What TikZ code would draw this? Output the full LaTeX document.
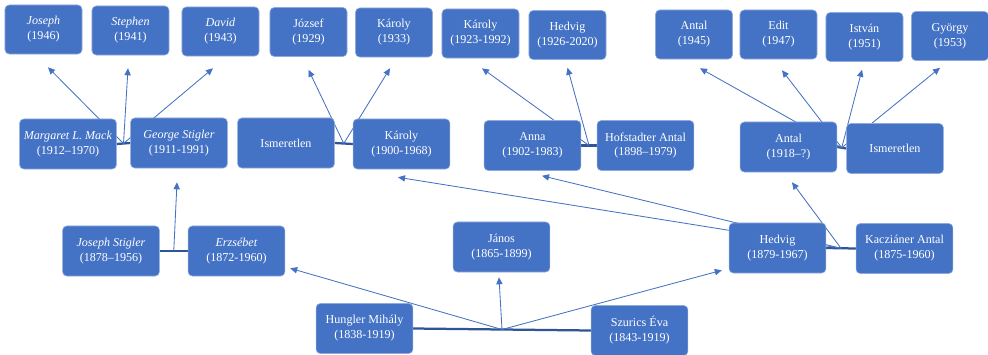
\documentclass[tikz,border=0pt]{standalone}
\usepackage{fontspec}
\setmainfont{Liberation Serif}
\usetikzlibrary{arrows.meta,calc,backgrounds}
\definecolor{boxblue}{HTML}{4472C4}
\definecolor{boxedge}{HTML}{8FAADC}
\definecolor{wedline}{HTML}{2F5597}

\begin{document}
\begin{tikzpicture}[x=0.025cm,y=-0.025cm,
  person/.style={draw=boxedge,line width=0.4pt,rounded corners=3pt,fill=boxblue,text=white,align=center,font=\fontsize{8.6}{10.6}\selectfont,minimum width=2.42cm,minimum height=1.25cm,inner sep=1pt},
  kid/.style={person,minimum width=1.925cm,minimum height=1.225cm},
  couple/.style={draw=wedline,line width=1.6pt},
  descent/.style={draw=boxblue,line width=0.6pt,-{Triangle[length=5pt,width=4.5pt]}}]
\useasboundingbox (0,0) rectangle (988,355);
% top row
\node[kid] (joseph) at (43.5,29.5) {\textit{Joseph}\\(1946)};
\node[kid] (stephen) at (130.5,30.5) {\textit{Stephen}\\(1941)};
\node[kid] (david) at (220.5,31.5) {\textit{David}\\(1943)};
\node[kid] (jozsef) at (308.5,32) {József\\(1929)};
\node[kid] (karoly33) at (394,32.5) {Károly\\(1933)};
\node[kid] (karoly23) at (480.5,33.5) {Károly\\(1923-1992)};
\node[kid] (hedvig26) at (567.5,35) {Hedvig\\(1926-2020)};
\node[kid] (antal45) at (694,34.5) {Antal\\(1945)};
\node[kid] (edit) at (778.5,34.5) {Edit\\(1947)};
\node[kid] (istvan) at (864.5,37) {István\\(1951)};
\node[kid] (gyorgy) at (950,36) {György\\(1953)};
% second row
\node[person] (margaret) at (68,144) {\textit{Margaret L. Mack}\\(1912–1970)};
\node[person] (george) at (179,143) {\textit{George Stigler}\\(1911-1991)};
\node[person] (ism1) at (286,143) {Ismeretlen};
\node[person] (karoly00) at (401.5,144) {Károly\\(1900-1968)};
\node[person] (anna) at (532.5,145.5) {Anna\\(1902-1983)};
\node[person] (hofst) at (645.5,145.5) {Hofstadter Antal\\(1898–1979)};
\node[person] (antal18) at (788.5,147) {Antal\\(1918–?)};
\node[person] (ism2) at (895,148.5) {Ismeretlen};
% third row
\node[person] (josephs) at (111,251) {\textit{Joseph Stigler}\\(1878–1956)};
\node[person] (erzsebet) at (236.5,251) {\textit{Erzsébet}\\(1872-1960)};
\node[person] (janos) at (501.5,247) {János\\(1865-1899)};
\node[person] (hedvig79) at (777.5,248) {Hedvig\\(1879-1967)};
\node[person] (kacz) at (904.5,248.5) {Kacziáner Antal\\(1875-1960)};
% bottom row
\node[person] (hungler) at (364.5,328.5) {Hungler Mihály\\(1838-1919)};
\node[person] (szurics) at (639.5,330.5) {Szurics Éva\\(1843-1919)};
% family points
\coordinate (fam1) at ($(margaret.east)!.5!(george.west)$);
\coordinate (fam2) at ($(ism1.east)!.5!(karoly00.west)$);
\coordinate (fam3) at ($(anna.east)!.5!(hofst.west)$);
\coordinate (fam4) at ($(antal18.east)!.5!(ism2.west)$);
\coordinate (fam5) at ($(josephs.east)!.5!(erzsebet.west)$);
\coordinate (fam6) at ($(hedvig79.east)!.5!(kacz.west)$);
\coordinate (fam7) at ($(hungler.east)!.5!(szurics.west)$);
\begin{scope}[on background layer]
\draw[couple] (margaret.east) -- (george.west);
\draw[couple] (ism1.east) -- (karoly00.west);
\draw[couple] (anna.east) -- (hofst.west);
\draw[couple] (antal18.east) -- (ism2.west);
\draw[couple] (josephs.east) -- (erzsebet.west);
\draw[couple] (hedvig79.east) -- (kacz.west);
\draw[couple] (hungler.east) -- (szurics.west);
% children
\draw[descent] (fam1) -- ([shift={(4.5,13)}]joseph.south);
\draw[descent] (fam1) -- ([shift={(-2.5,13)}]stephen.south);
\draw[descent] (fam1) -- ([shift={(-7.5,12)}]david.south);
\draw[descent] (fam2) -- ([shift={(0,13)}]jozsef.south);
\draw[descent] (fam2) -- ([shift={(-4,11)}]karoly33.south);
\draw[descent] (fam3) -- ([shift={(1.5,10)}]karoly23.south);
\draw[descent] (fam3) -- ([shift={(0,8)}]hedvig26.south);
\draw[descent] (fam4) -- ([shift={(6,9)}]antal45.south);
\draw[descent] (fam4) -- ([shift={(3.5,11)}]edit.south);
\draw[descent] (fam4) -- ([shift={(-2.5,8)}]istvan.south);
\draw[descent] (fam4) -- ([shift={(-10,7)}]gyorgy.south);
\draw[descent] (fam5) -- ([shift={(-2,14)}]george.south);
\draw[descent] (fam6) -- ([shift={(-3.5,8)}]karoly00.south);
\draw[descent] (fam6) -- ([shift={(9.5,5)}]anna.south);
\draw[descent] (fam6) -- ([shift={(3.5,10)}]antal18.south);
\draw[descent] (fam7) -- ([shift={(5,-8)}]erzsebet.south east);
\draw[descent] (fam7) -- ([shift={(-2.5,5)}]janos.south);
\draw[descent] (fam7) -- ([shift={(-7,-3)}]hedvig79.south west);
\end{scope}
\end{tikzpicture}
\end{document}
